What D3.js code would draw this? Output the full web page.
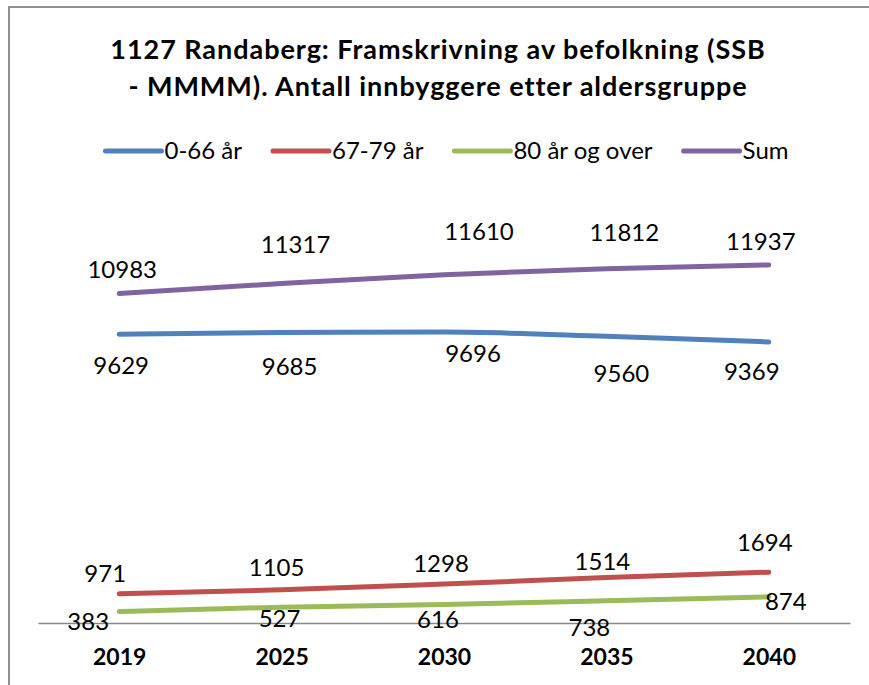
<!DOCTYPE html>
<html>
<head>
<meta charset="utf-8">
<script src="https://cdn.jsdelivr.net/npm/d3@7"></script>
<style>
  body { margin: 0; background: #fff; }
  svg { display: block; }
</style>
</head>
<body>
<svg></svg>
<script>
// data
let years = ['2019', '2025', '2030', '2035', '2040'];
let age0to66 = [9629, 9685, 9696, 9560, 9369];
let age67to79 = [971, 1105, 1298, 1514, 1694];
let age80plus = [383, 527, 616, 738, 874];
let total = [10983, 11317, 11610, 11812, 11937];

let seriesNames = ['0-66 år', '67-79 år', '80 år og over', 'Sum'];
let titleLines = ['1127 Randaberg: Framskrivning av befolkning (SSB', '- MMMM). Antall innbyggere etter aldersgruppe'];

// the labels in the original were dragged around by hand, so nudge them per point
let nudge0to66 = [[2, 31], [8, 34], [29, 21], [15, 37], [-17, 30]];
let nudge67to79 = [[-14, -20], [-5, -22], [-3, -20], [-4, -16], [-4, -30]];
let nudge80plus = [[-31, 10], [-2, 11], [-6, 15], [-17, 27], [17, 5]];
let nudgeTotal = [[3, -24], [14, -39], [35, -43], [18, -36], [-8, -23]];

let colors = ['#4F81BD', '#C0504D', '#9BBB59', '#8064A2'];

let svgWidth = 869, svgHeight = 685;
let font = 'Lato, "Open Sans", sans-serif';

let svg = d3.select('svg')
    .attr('width', svgWidth)
    .attr('height', svgHeight);

// frame of the chart (cut off at the right and bottom)
svg.append('path')
    .attr('d', 'M9,' + svgHeight + 'V7H' + svgWidth)
    .attr('fill', 'none')
    .attr('stroke', '#8f8f8f')
    .attr('stroke-width', 2);

// title
svg.append('g')
    .selectAll('text')
    .data(titleLines)
    .enter()
    .append('text')
    .attr('x', 438)
    .attr('y', (d, i) => 59 + i * 37)
    .attr('text-anchor', 'middle')
    .attr('font-family', font)
    .attr('font-weight', 'bold')
    .attr('font-size', 27)
    .attr('letter-spacing', 0.95)
    .attr('fill', '#000')
    .text(d => d);

let x = d3.scalePoint()
    .domain(years)
    .range([38, 850])
    .padding(0.5);

let y = d3.scaleLinear()
    .domain([0, 14000])
    .range([623, 203]);

let series = [
    { name: seriesNames[0], values: age0to66, nudge: nudge0to66, color: colors[0] },
    { name: seriesNames[1], values: age67to79, nudge: nudge67to79, color: colors[1] },
    { name: seriesNames[2], values: age80plus, nudge: nudge80plus, color: colors[2] },
    { name: seriesNames[3], values: total, nudge: nudgeTotal, color: colors[3] }
];

// x axis, only the line and bold year labels
let xAxis = svg.append('g')
    .attr('transform', 'translate(0,' + y(0) + ')')
    .call(d3.axisBottom(x).tickSize(0).tickPadding(26));
xAxis.select('.domain')
    .attr('stroke', '#868686')
    .attr('stroke-width', 1.5);
xAxis.selectAll('text')
    .attr('font-family', font)
    .attr('font-weight', 'bold')
    .attr('font-size', 23)
    .attr('fill', '#000');

let line = d3.line()
    .x((d, i) => x(years[i]))
    .y(d => y(d))
    .curve(d3.curveMonotoneX);

svg.append('g')
    .selectAll('path')
    .data(series)
    .enter()
    .append('path')
    .attr('d', d => line(d.values))
    .attr('fill', 'none')
    .attr('stroke', d => d.color)
    .attr('stroke-width', 5)
    .attr('stroke-linecap', 'round')
    .attr('stroke-linejoin', 'round');

// data labels
series.forEach(s => {
    svg.append('g')
        .selectAll('text')
        .data(s.values)
        .enter()
        .append('text')
        .attr('x', (d, i) => x(years[i]) + s.nudge[i][0])
        .attr('y', (d, i) => y(d) + s.nudge[i][1])
        .attr('dy', '0.35em')
        .attr('text-anchor', 'middle')
        .attr('font-family', font)
        .attr('font-size', 24)
        .attr('fill', '#000')
        .text(d => d);
});

// legend, centred above the plot
let legend = svg.append('g');
let items = legend.selectAll('g')
    .data(series)
    .enter()
    .append('g');
items.append('line')
    .attr('x1', 0).attr('x2', 56)
    .attr('y1', 0).attr('y2', 0)
    .attr('stroke', d => d.color)
    .attr('stroke-width', 5)
    .attr('stroke-linecap', 'round');
items.append('text')
    .attr('x', 59)
    .attr('dy', '0.35em')
    .attr('font-family', font)
    .attr('font-size', 24)
    .attr('fill', '#000')
    .text(d => d.name);

let offset = 0;
items.each(function () {
    let w = d3.select(this).select('text').node().getComputedTextLength();
    d3.select(this).attr('transform', 'translate(' + offset + ',0)');
    offset += 59 + w + 31;
});
let legendWidth = offset - 31;
legend.attr('transform', 'translate(' + (447 - legendWidth / 2) + ',151)');
</script>
</body>
</html>
